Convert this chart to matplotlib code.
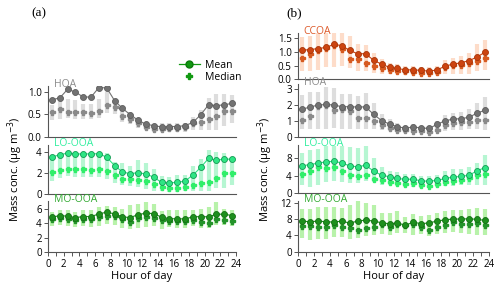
import matplotlib
matplotlib.use("Agg")
import matplotlib.pyplot as plt
from matplotlib.lines import Line2D
from matplotlib.ticker import FormatStrFormatter

plt.rcParams['font.family'] = ['Open Sans', 'DejaVu Sans']

hours = [h + 0.5 for h in range(24)]

# ---- panel (a) ----
a_hoa_mean = [0.82, 0.86, 1.05, 0.99, 0.88, 0.88, 1.09, 1.08, 0.80, 0.63, 0.49, 0.37,
              0.28, 0.25, 0.22, 0.23, 0.23, 0.25, 0.32, 0.49, 0.71, 0.69, 0.71, 0.74]
a_hoa_median = [0.55, 0.61, 0.56, 0.55, 0.54, 0.53, 0.57, 0.70, 0.66, 0.47, 0.40, 0.30,
                0.22, 0.18, 0.18, 0.20, 0.19, 0.22, 0.30, 0.34, 0.40, 0.46, 0.57, 0.58]
a_hoa_low = [0.37, 0.40, 0.42, 0.40, 0.40, 0.40, 0.42, 0.52, 0.50, 0.33, 0.28, 0.20,
             0.15, 0.10, 0.10, 0.10, 0.10, 0.12, 0.15, 0.15, 0.15, 0.15, 0.25, 0.30]
a_hoa_high = [0.70, 0.83, 0.83, 0.82, 0.73, 0.73, 0.83, 0.98, 0.80, 0.62, 0.55, 0.38,
              0.30, 0.27, 0.30, 0.30, 0.30, 0.30, 0.45, 0.60, 0.85, 0.95, 0.95, 0.92]

a_lo_mean = [3.56, 3.76, 3.93, 3.86, 3.83, 3.86, 3.86, 3.53, 2.71, 2.10, 1.93, 2.03,
             1.90, 1.59, 1.08, 1.05, 1.08, 1.22, 1.80, 2.54, 3.42, 3.22, 3.36, 3.32]
a_lo_median = [2.14, 2.27, 2.34, 2.40, 2.37, 2.30, 2.34, 2.17, 1.80, 1.46, 1.46, 1.36,
               1.19, 0.92, 0.68, 0.51, 0.51, 0.68, 0.88, 0.98, 1.08, 1.53, 2.00, 2.00]
a_lo_low = [1.2, 1.5, 1.7, 1.6, 1.6, 1.6, 1.6, 1.4, 1.0, 0.8, 0.7, 0.6,
            0.4, 0.3, 0.3, 0.2, 0.2, 0.3, 0.3, 0.3, 0.3, 0.5, 0.5, 0.8]
a_lo_high = [3.5, 3.6, 3.8, 3.9, 3.8, 3.8, 3.8, 3.9, 3.1, 3.0, 2.7, 3.3,
             3.0, 2.4, 1.7, 1.6, 1.8, 1.8, 2.7, 3.4, 4.2, 4.0, 3.9, 3.5]

a_mo_mean = [4.83, 5.06, 4.97, 4.78, 4.92, 4.92, 5.30, 5.53, 5.30, 4.88, 4.78, 5.20,
             5.39, 5.34, 4.83, 4.64, 4.60, 4.60, 4.88, 4.92, 4.88, 5.25, 5.25, 5.06]
a_mo_median = [4.55, 4.69, 4.55, 4.50, 4.60, 4.64, 4.83, 5.06, 4.97, 4.55, 4.22, 4.69,
               4.92, 4.78, 4.50, 4.36, 4.31, 4.31, 4.45, 4.22, 4.03, 4.55, 4.50, 4.31]
a_mo_low = [3.6, 3.7, 3.6, 3.5, 3.6, 3.5, 3.6, 3.9, 3.7, 3.3, 3.2, 3.4,
            3.5, 3.6, 3.2, 3.5, 3.4, 3.4, 3.6, 3.4, 3.3, 3.7, 3.7, 3.6]
a_mo_high = [5.5, 5.8, 5.8, 5.6, 5.8, 5.8, 6.2, 6.4, 6.2, 6.0, 6.5, 6.6,
             6.9, 6.7, 5.7, 5.8, 5.8, 5.8, 5.9, 6.0, 6.3, 6.9, 6.0, 5.9]

# ---- panel (b) ----
b_cc_mean = [1.07, 1.09, 1.13, 1.17, 1.28, 1.24, 1.06, 0.94, 0.94, 0.70, 0.56, 0.44,
             0.40, 0.35, 0.35, 0.33, 0.30, 0.35, 0.49, 0.56, 0.61, 0.69, 0.82, 1.00]
b_cc_median = [0.79, 0.94, 1.06, 1.16, 1.27, 1.12, 0.75, 0.75, 0.60, 0.48, 0.41, 0.35,
               0.30, 0.30, 0.28, 0.25, 0.22, 0.27, 0.44, 0.51, 0.54, 0.59, 0.67, 0.77]
b_cc_low = [0.30, 0.30, 0.35, 0.45, 0.45, 0.50, 0.40, 0.30, 0.30, 0.25, 0.20, 0.20,
            0.20, 0.15, 0.15, 0.15, 0.15, 0.15, 0.20, 0.20, 0.20, 0.20, 0.30, 0.35]
b_cc_high = [1.55, 1.60, 1.75, 1.70, 1.85, 1.80, 1.60, 1.30, 1.25, 0.95, 0.75, 0.60,
             0.55, 0.50, 0.50, 0.45, 0.45, 0.50, 0.70, 0.80, 0.85, 0.95, 1.30, 1.45]

b_hoa_mean = [1.72, 1.86, 1.98, 2.02, 1.99, 1.88, 1.88, 1.86, 1.87, 1.40, 1.01, 0.79,
              0.62, 0.53, 0.61, 0.54, 0.52, 0.78, 1.00, 1.10, 1.13, 1.22, 1.48, 1.66]
b_hoa_median = [1.06, 1.28, 1.92, 1.98, 1.65, 1.71, 1.60, 1.16, 1.16, 0.98, 0.73, 0.57,
                0.43, 0.41, 0.37, 0.33, 0.29, 0.43, 0.73, 0.84, 0.90, 0.94, 1.02, 1.02]
b_hoa_low = [0.45, 0.45, 0.45, 0.50, 0.55, 0.50, 0.50, 0.45, 0.45, 0.45, 0.40, 0.35,
             0.30, 0.25, 0.25, 0.25, 0.25, 0.30, 0.35, 0.40, 0.40, 0.45, 0.45, 0.40]
b_hoa_high = [2.60, 2.80, 2.80, 3.10, 3.05, 2.70, 2.70, 2.55, 2.75, 2.10, 1.40, 1.10,
              0.85, 0.70, 0.80, 0.70, 0.70, 1.00, 1.35, 1.50, 1.55, 1.75, 2.10, 2.50]

b_lo_mean = [6.26, 6.57, 6.87, 7.17, 7.30, 6.94, 6.26, 6.04, 6.42, 5.06, 4.15, 3.77,
             3.40, 3.17, 3.25, 2.79, 2.79, 2.94, 3.40, 3.70, 3.85, 4.15, 5.13, 5.89]
b_lo_median = [4.30, 5.06, 5.96, 5.89, 6.04, 5.20, 4.23, 3.85, 4.08, 3.17, 2.94, 2.57,
               2.42, 2.19, 2.26, 1.89, 1.74, 2.04, 2.49, 2.79, 3.09, 3.40, 4.15, 4.45]
b_lo_low = [1.8, 1.5, 2.0, 2.5, 2.8, 2.6, 2.3, 2.3, 2.7, 2.5, 2.0, 1.8,
            1.6, 1.5, 1.5, 1.3, 1.3, 1.4, 1.6, 1.7, 1.8, 1.8, 2.0, 2.0]
b_lo_high = [9.2, 10.0, 10.1, 10.8, 10.9, 10.9, 10.6, 10.3, 10.7, 8.0, 6.0, 5.2,
             4.8, 4.3, 4.5, 4.0, 4.0, 4.2, 5.0, 5.5, 5.5, 6.0, 7.0, 8.7]

b_mo_mean = [7.53, 7.37, 7.53, 7.37, 7.28, 7.53, 7.04, 7.53, 7.78, 7.53, 7.12, 6.87,
             7.04, 6.54, 7.28, 6.87, 7.12, 7.53, 7.86, 8.03, 8.03, 8.11, 7.95, 7.70]
b_mo_median = [6.21, 6.37, 5.96, 6.04, 6.62, 6.04, 5.71, 5.38, 5.71, 6.04, 6.70, 6.04,
               6.70, 6.45, 6.70, 5.96, 5.38, 6.12, 6.54, 7.37, 6.70, 6.70, 6.95, 6.45]
b_mo_low = [3.3, 2.9, 3.1, 3.2, 3.5, 3.5, 3.1, 3.3, 3.9, 4.2, 4.4, 4.2,
            4.6, 4.5, 4.1, 4.3, 3.8, 4.3, 4.5, 4.9, 4.5, 4.4, 4.1, 4.0]
b_mo_high = [10.5, 10.6, 11.1, 11.0, 10.9, 10.8, 11.6, 12.4, 11.9, 11.6, 9.5, 9.5,
             9.9, 8.6, 9.3, 8.8, 9.0, 9.5, 10.0, 10.3, 10.2, 10.5, 10.8, 10.5]

# colours: (mean face, mean edge, median, bar, label)
styles = {
    'CCOA': ('#cc4410', '#a83408', '#d65a20', '#fddcc9', '#dd5a2a'),
    'HOA': ('#727272', '#5c5c5c', '#8a8a8a', '#dddddd', '#8c8c8c'),
    'LO-OOA': ('#2ee584', '#129a52', '#30ee6a', '#b6f6d2', '#33eea0'),
    'MO-OOA': ('#1d8f1d', '#127012', '#24932a', '#b8f2aa', '#33aa33'),
}

fig = plt.figure(figsize=(5.0, 2.92), dpi=100)


def draw(rect, name, mean, median, low, high, ylim, yticks, fmt, bottom=False):
    face, edge, medc, barc, labc = styles[name]
    ax = fig.add_axes(rect)
    ax.vlines(hours, low, high, color=barc, lw=3.0, zorder=1)
    ax.plot(hours, mean, '-o', color=face, mec=edge, mew=0.6, ms=4.3, lw=0.8, zorder=3)
    ax.plot(hours, median, 'P', color=medc, mec=medc, ms=3.6, lw=0, zorder=2)
    ax.set_xlim(0, 24)
    ax.set_ylim(*ylim)
    ax.set_yticks(yticks)
    ax.yaxis.set_major_formatter(FormatStrFormatter(fmt))
    for s in ['top', 'right']:
        ax.spines[s].set_visible(False)
    for s in ['left', 'bottom']:
        ax.spines[s].set_color('#555555')
        ax.spines[s].set_linewidth(0.8)
    ax.tick_params(axis='y', labelsize=7, length=3, width=0.7, color='#555555', pad=1.5)
    if bottom:
        ax.set_xticks(range(0, 25, 2))
        ax.set_xticks(range(0, 25), minor=True)
        ax.tick_params(axis='x', which='both', labelsize=7, length=3, width=0.7,
                       color='#555555', pad=2)
        ax.set_xlabel('Hour of day', fontsize=8, labelpad=1)
    else:
        ax.set_xticks([])
    ax.text(0.03, 1.03, name, transform=ax.transAxes, color=labc, fontsize=7.5,
            ha='left', va='center')
    return ax


la, wa = 0.096, 0.376
draw([la, 0.531, wa, 0.174], 'HOA', a_hoa_mean, a_hoa_median, a_hoa_low, a_hoa_high,
     (0, 1.12), [0, 0.5, 1.0], '%.1f')
draw([la, 0.337, wa, 0.166], 'LO-OOA', a_lo_mean, a_lo_median, a_lo_low, a_lo_high,
     (0, 4.7), [0, 2, 4], '%d')
draw([la, 0.137, wa, 0.175], 'MO-OOA', a_mo_mean, a_mo_median, a_mo_low, a_mo_high,
     (0, 7.1), [0, 2, 4, 6], '%d', bottom=True)

lb, wb = 0.596, 0.382
draw([lb, 0.728, wb, 0.159], 'CCOA', b_cc_mean, b_cc_median, b_cc_low, b_cc_high,
     (0, 1.7), [0, 0.5, 1.0, 1.5], '%.1f')
draw([lb, 0.532, wb, 0.180], 'HOA', b_hoa_mean, b_hoa_median, b_hoa_low, b_hoa_high,
     (0, 3.3), [0, 1, 2, 3], '%d')
draw([lb, 0.338, wb, 0.165], 'LO-OOA', b_lo_mean, b_lo_median, b_lo_low, b_lo_high,
     (0, 11), [0, 4, 8], '%d')
draw([lb, 0.138, wb, 0.174], 'MO-OOA', b_mo_mean, b_mo_median, b_mo_low, b_mo_high,
     (0, 12.5), [0, 4, 8, 12], '%d', bottom=True)

ylab = 'Mass conc. (μg m$^{-3}$)'
fig.text(0.030, 0.42, ylab, rotation=90, ha='center', va='center', fontsize=8)
fig.text(0.530, 0.42, ylab, rotation=90, ha='center', va='center', fontsize=8)

fig.text(0.078, 0.955, '(a)', family='Liberation Serif', fontsize=9.5, ha='center', va='center')
fig.text(0.589, 0.955, '(b)', family='Liberation Serif', fontsize=9.5, ha='center', va='center')

handles = [
    Line2D([], [], color='#119911', marker='o', mec='#0c7a0c', ms=5, lw=0.9),
    Line2D([], [], color='#119911', marker='P', ms=4, lw=0),
]
fig.legend(handles, ['Mean', 'Median'], loc='center', bbox_to_anchor=(0.42, 0.755),
           frameon=False, fontsize=7.5, handlelength=2.0, handletextpad=0.5,
           labelspacing=0.1, borderpad=0)

fig.savefig('out.png', dpi=100)
